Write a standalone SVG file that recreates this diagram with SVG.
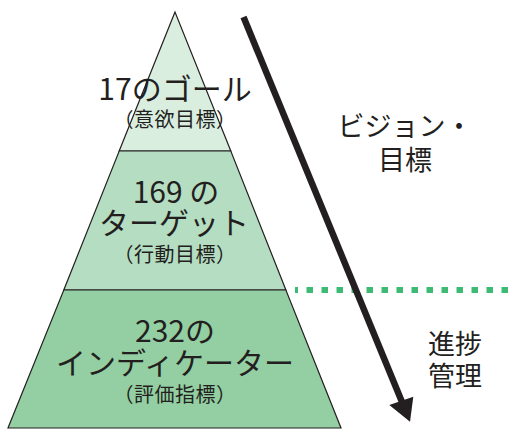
<svg xmlns="http://www.w3.org/2000/svg" width="517" height="432" viewBox="0 0 517 432">
<style>
.t{font-family:"Noto Sans CJK JP","Noto Sans",sans-serif;fill:#231f20;text-anchor:middle}
.big{font-size:30px}
.sm{font-size:20px;letter-spacing:0.5px}
.side{font-size:27px}
.tier{stroke:#231f20;stroke-width:1.2}
</style>
<rect width="517" height="432" fill="#ffffff"/>
<g id="tier-goals">
<polygon class="tier" points="175,12 119.2,151 230.8,151" fill="#daeee0"/>
<text class="t big" x="175" y="100">17のゴール</text>
<text class="t sm" x="175" y="127">（意欲目標）</text>
</g>
<g id="tier-targets">
<polygon class="tier" points="119.2,151 230.8,151 285.9,290 63.8,290" fill="#b5ddc1"/>
<text class="t big" x="176" y="203">169 の</text>
<text class="t big" x="174" y="234">ターゲット</text>
<text class="t sm" x="175" y="262">（行動目標）</text>
</g>
<g id="tier-indicators">
<polygon class="tier" points="63.8,290 285.9,290 341,428 8,428" fill="#93cfa2"/>
<text class="t big" x="175" y="342">232の</text>
<text class="t big" x="175" y="374">インディケーター</text>
<text class="t sm" x="175" y="402">（評価指標）</text>
</g>
<g id="label-vision">
<text class="t side" x="405" y="136">ビジョン・</text>
<text class="t side" x="405" y="170">目標</text>
</g>
<g id="label-progress">
<text class="t side" x="455" y="354">進捗</text>
<text class="t side" x="455" y="386">管理</text>
</g>
<g id="connectors">
<line x1="295" y1="290" x2="510" y2="290" stroke="#3dbb74" stroke-width="6" stroke-dasharray="6.5 8.5" stroke-dashoffset="3.5"/>
<line x1="243.5" y1="17" x2="402" y2="402" stroke="#231f20" stroke-width="6.5"/>
<polygon points="410,421.7 389.3,405 413.3,396.7" fill="#231f20"/>
</g>
</svg>
